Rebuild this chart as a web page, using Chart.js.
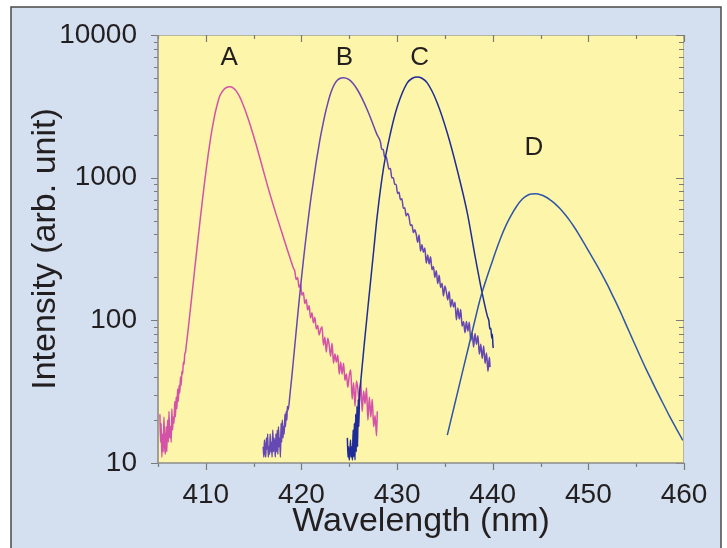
<!DOCTYPE html>
<html>
<head>
<meta charset="utf-8">
<script src="https://cdn.jsdelivr.net/npm/chart.js@4"></script>
<style>
  html, body { margin: 0; padding: 0; background: #ffffff; }
  #wrap { width: 727px; height: 548px; }
</style>
</head>
<body>
<div id="wrap"><canvas id="spectra" width="727" height="548"></canvas></div>
<script>
// Emission spectra, [wavelength nm, intensity arb. unit]
const seriesA = [
  [405.2,22],[405.27,14],[405.33,19],[405.4,11],[405.47,16],[405.55,12],[405.62,21],[405.7,13],[405.77,11.5],
  [405.85,18],[405.92,12],[406.0,20],[406.08,14],[406.15,23],[406.22,15],[406.3,18],[406.38,14],[406.45,24],
  [406.52,17],[406.6,21],[406.68,19],[406.75,27],[406.82,21],[406.9,29],[406.98,24],[407.05,33],[407.12,27],
  [407.2,35],[407.28,31],[407.35,40],[407.42,35],[407.5,44],[407.58,42],[407.65,51],[407.72,49],[407.8,58],
  [407.88,60],[407.95,66],[408.05,75],[408.25,98.9],[408.45,131],[408.65,174],[408.85,232],[409.05,308],
  [409.25,406],[409.45,535],[409.65,698],[409.85,904],[410.05,1156],[410.25,1455],[410.45,1799],[410.65,2178],
  [410.85,2576],[411.05,2979],[411.25,3365],[411.45,3715],[411.65,3945],[411.85,4121],[412.05,4246],[412.3,4325],
  [412.54,4345],[412.85,4266],[413.15,4074],[413.45,3784],[413.75,3436],[414.05,3055],[414.35,2679],[414.65,2328],
  [414.95,2004],[415.25,1714],[415.55,1455],[415.85,1230],[416.15,1038],[416.45,879],[416.75,750],[417.05,643],
  [417.35,553],[417.65,478],[417.95,413],[418.25,357],[418.55,309],[418.85,268],[419.15,233],
  [419.3,222],[419.45,193],[419.6,200],[419.75,170],[419.9,179],[420.05,150],[420.2,157],[420.35,131],
  [420.5,140],[420.65,118],[420.8,127],[420.95,104],[421.1,113],[421.25,96],[421.4,105],[421.55,87],[421.7,92],
  [421.85,79],[422.0,86],[422.15,90],[422.3,67],[422.45,76],[422.6,60],[422.75,75],[422.9,67],[423.05,56],[423.2,69],
  [423.35,50],[423.5,58],[423.65,51],[423.8,57],[423.95,42],[424.1,51],[424.25,42],[424.4,50],[424.55,38],[424.7,42],
  [424.85,34],[425.0,41],[425.15,45],[425.3,28],[425.45,36.5],[425.6,25],[425.75,37.6],[425.9,33],[426.05,26],
  [426.2,37.5],[426.35,23],[426.5,32],[426.65,26],[426.8,33.6],[426.95,20],[427.1,29],[427.25,21],[427.4,28],
  [427.55,18],[427.7,21.5],[427.85,15.5],[427.93,23]
];
const seriesB = [
  [416.0,13],[416.07,11],[416.13,14.5],[416.2,12],[416.27,11],[416.33,15],[416.4,12.5],[416.47,16],[416.53,11],
  [416.6,13],[416.67,11.5],[416.73,16],[416.8,12],[416.87,14],[416.93,11],[417.0,17],[417.07,12],[417.13,15],
  [417.2,13.5],[417.27,11],[417.33,16],[417.4,12],[417.47,17],[417.53,11.5],[417.6,18],[417.67,13],[417.73,15],
  [417.8,11],[417.87,19],[417.93,14],[418.0,20],[418.07,15],[418.13,18],[418.2,16],[418.27,22],[418.33,18],
  [418.4,23],[418.47,20],[418.53,25],[418.6,23.4],[418.8,30.2],[419.0,40.7],[419.2,56.2],[419.4,77.6],[419.6,107],
  [419.8,146],[420.0,197],[420.2,262],[420.4,344],[420.6,447],[420.8,573],[421.0,726],[421.25,946],[421.5,1233],
  [421.75,1560],[422.0,1954],[422.25,2371],[422.5,2844],[422.75,3319],[423.0,3811],[423.25,4236],[423.5,4581],
  [423.75,4819],[424.0,4955],[424.4,5012],[424.9,4898],[425.4,4571],[425.9,4083],[426.4,3524],[426.9,2965],
  [427.4,2449],[427.9,2004],
  [428.25,1790],[428.4,1580],[428.55,1575],[428.7,1395],[428.85,1400],[429.0,1270],[429.15,1150],[429.3,1160],
  [429.45,995],[429.6,1000],[429.75,900],[429.9,895],[430.05,775],[430.2,790],[430.35,700],[430.5,712],[430.65,610],
  [430.8,615],[430.95,540],[431.1,560],[431.25,530],[431.4,462],[431.55,468],[431.7,412],[431.85,431],[432.0,401],
  [432.15,353],[432.3,397],[432.45,306],[432.6,339],[432.75,300],[432.9,322],[433.05,252],[433.2,287],[433.35,248],
  [433.5,279],[433.65,226],[433.8,238],[433.95,200],[434.1,223],[434.25,181],[434.4,207],[434.55,170],[434.7,182],
  [434.85,148],[435.0,174],[435.15,158],[435.3,139],[435.45,159],[435.6,124],[435.75,140],[435.9,124],[436.05,134],
  [436.2,101],[436.35,122],[436.5,102],[436.65,119],[436.8,91],[436.95,98],[437.1,82],[437.25,98],[437.4,84],
  [437.55,97],[437.7,72],[437.85,82],[438.0,65],[438.15,81],[438.3,68],[438.45,78],[438.6,58],[438.75,68],
  [438.9,54],[439.05,66],[439.2,50],[439.35,59],[439.5,44],[439.65,55],[439.72,47]
];
const seriesC = [
  [424.8,15],[424.87,11],[424.93,13],[425.0,10.5],[425.07,12],[425.13,14.5],[425.2,11],[425.27,13],[425.33,10.5],
  [425.4,17],[425.47,11],[425.53,19],[425.6,10.5],[425.67,22],[425.73,12],[425.8,25],[425.87,13],[425.93,28],
  [426.0,18],[426.07,30],[426.16,35],[426.58,69.5],[427.03,139],[427.56,311],[427.91,531],[428.6,1189],
  [429.31,2056],[430.01,3126],[431.06,4613],[431.6,4977],[432.1,5082],[432.6,4977],[433.15,4613],[434.2,3342],
  [435.25,2056],[436.29,1132],[437.34,566],[438.1,295],[438.73,176],[439.44,107],[439.6,99],[439.7,87],
  [439.8,88],[439.9,75],[439.96,80],[440.03,66],[440.07,64]
];
const seriesD = [
  [435.25,15.7],[436.0,25.4],[436.75,41.1],[437.5,66.4],[438.1,97.7],[438.73,144.5],[439.25,187],[439.78,239],
  [440.3,303],[440.83,378],[441.35,457],[441.88,537],[442.5,630],[443.1,708],[443.6,750],[444.05,767],[444.5,770],
  [445.0,759],[445.5,735],[446.0,700],[446.5,658],[447.0,610],[447.5,558],[448.0,506],[448.5,453],[449.0,401],
  [449.5,352],[450.0,308],[450.5,270],[451.0,236],[451.5,205],[452.0,177],[452.5,151],[453.0,129],[453.5,109],
  [454.0,91.4],[454.5,76.9],[455.0,64.7],[455.5,54.5],[456.0,46.1],[456.5,39.3],[457.0,33.5],[457.5,28.7],
  [458.0,24.7],[458.5,21.2],[459.0,18.4],[459.5,16.0],[459.87,14.4]
];

// Peak annotations
const peakLabels = ['A', 'B', 'C', 'D'];
const peakLabelX = [412.45, 424.5, 432.35, 444.3];
const peakLabelY = [6900, 6900, 6950, 1610];

// Axis ticks
const xTickValues = [410, 420, 430, 440, 450, 460];
const xMinorTicks = [405, 415, 425, 435, 445, 455];
const yTickValues = [10, 100, 1000, 10000];

const FONT = "'Liberation Sans', Arial, Helvetica, sans-serif";
const TEXT = '#231f20';

const toPoints = arr => arr.map(([x, y]) => ({ x, y }));

const yMinorTicks = [];
[10, 100, 1000].forEach(d => { for (let k = 2; k <= 9; k++) yMinorTicks.push(d * k); });

const backdrop = {
  id: 'backdrop',
  beforeDraw(chart) {
    const { ctx, chartArea: a } = chart;
    ctx.save();
    ctx.fillStyle = '#ffffff';
    ctx.fillRect(0, 0, chart.width, chart.height);
    ctx.fillStyle = '#d4e0ef';
    ctx.fillRect(11, 7, 710, 560);
    ctx.strokeStyle = '#4a4a4a';
    ctx.lineWidth = 1.5;
    ctx.strokeRect(11, 7, 710, 560);
    ctx.fillStyle = '#fdf5a9';
    ctx.fillRect(a.left, a.top, a.right - a.left, a.bottom - a.top);
    ctx.restore();
  }
};

const axisFrame = {
  id: 'axisFrame',
  afterDatasetsDraw(chart) {
    const { ctx, chartArea: a, scales: { x, y } } = chart;
    ctx.save();
    ctx.lineCap = 'butt';
    // top / right edges
    ctx.strokeStyle = '#b5b5a0';
    ctx.lineWidth = 1;
    ctx.beginPath();
    ctx.moveTo(a.left, a.top + 0.5); ctx.lineTo(a.right, a.top + 0.5);
    ctx.moveTo(a.right - 0.5, a.top); ctx.lineTo(a.right - 0.5, a.bottom);
    ctx.stroke();
    // ticks
    ctx.strokeStyle = '#7a7a7a';
    ctx.lineWidth = 1.2;
    ctx.beginPath();
    const xt = (v, len) => {
      const p = Math.round(x.getPixelForValue(v)) + 0.5;
      ctx.moveTo(p, a.bottom); ctx.lineTo(p, a.bottom + len);
      ctx.moveTo(p, a.top); ctx.lineTo(p, a.top + len);
    };
    xTickValues.forEach(v => xt(v, 7));
    xMinorTicks.forEach(v => xt(v, 4));
    const yt = (v, lenL, lenR) => {
      const p = Math.round(y.getPixelForValue(v)) + 0.5;
      ctx.moveTo(a.left, p); ctx.lineTo(a.left - lenL, p);
      ctx.moveTo(a.right, p); ctx.lineTo(a.right - lenR, p);
    };
    yTickValues.forEach(v => yt(v, 7, 8));
    yMinorTicks.forEach(v => yt(v, 4, 5));
    ctx.stroke();
    // left / bottom axis lines
    ctx.strokeStyle = '#8c8c8c';
    ctx.lineWidth = 1.6;
    ctx.beginPath();
    ctx.moveTo(a.left, a.top); ctx.lineTo(a.left, a.bottom);
    ctx.lineTo(a.right, a.bottom);
    ctx.stroke();
    // peak letters
    ctx.fillStyle = TEXT;
    ctx.font = `26px ${FONT}`;
    ctx.textAlign = 'center';
    ctx.textBaseline = 'middle';
    peakLabels.forEach((t, i) => {
      ctx.fillText(t, x.getPixelForValue(peakLabelX[i]), y.getPixelForValue(peakLabelY[i]));
    });
    ctx.restore();
  }
};

const line = (data, color) => ({
  data: toPoints(data),
  showLine: true,
  borderColor: color,
  borderWidth: 1.5,
  pointRadius: 0,
  pointHoverRadius: 0,
  cubicInterpolationMode: 'monotone',
  fill: false
});

new Chart(document.getElementById('spectra'), {
  type: 'scatter',
  data: {
    datasets: [
      line(seriesD, '#2d55aa'),
      line(seriesC, '#1f2c98'),
      line(seriesB, '#6548b2'),
      line(seriesA, '#d453a8')
    ]
  },
  options: {
    responsive: false,
    animation: false,
    devicePixelRatio: 1,
    layout: { padding: { left: 0, top: 35, right: 43, bottom: 0 } },
    plugins: { legend: { display: false }, tooltip: { enabled: false } },
    scales: {
      x: {
        type: 'linear',
        position: 'bottom',
        min: 405,
        max: 460,
        afterFit: s => { s.height = 85; },
        afterBuildTicks: s => { s.ticks = xTickValues.map(v => ({ value: v })); },
        grid: { display: false },
        border: { display: false },
        ticks: {
          padding: 7,
          maxRotation: 0,
          autoSkip: false,
          color: TEXT,
          font: { family: FONT, size: 28 },
          callback: v => String(v)
        },
        title: {
          display: true,
          text: 'Wavelength (nm)',
          color: TEXT,
          font: { family: FONT, size: 34 },
          padding: { top: 0, bottom: 6 }
        }
      },
      y: {
        type: 'logarithmic',
        position: 'left',
        min: 10,
        max: 10000,
        afterFit: s => { s.width = 158; },
        afterBuildTicks: s => { s.ticks = yTickValues.map(v => ({ value: v })); },
        grid: { display: false },
        border: { display: false },
        ticks: {
          padding: 13,
          color: TEXT,
          font: { family: FONT, size: 28 },
          callback: v => String(v)
        },
        title: {
          display: true,
          text: 'Intensity (arb. unit)',
          color: TEXT,
          font: { family: FONT, size: 34 },
          padding: { top: 25, bottom: 0 }
        }
      }
    }
  },
  plugins: [backdrop, axisFrame]
});
</script>
</body>
</html>
